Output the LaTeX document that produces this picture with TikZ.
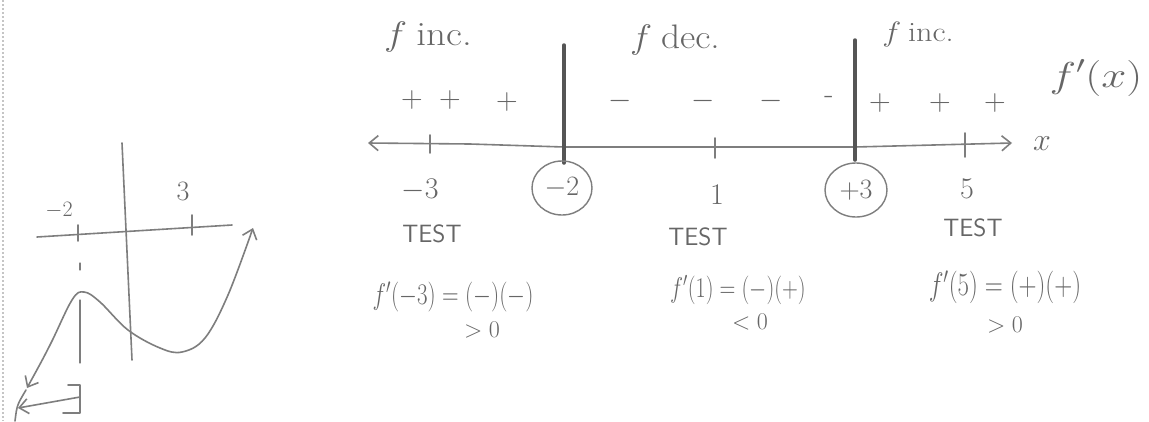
\RequirePackage{fix-cm}
\documentclass[tikz,border=0pt]{standalone}
\usepackage{graphicx}
\usetikzlibrary{arrows.meta,shapes.geometric}
\definecolor{pencil}{HTML}{7E7E7E}
\definecolor{pencildark}{HTML}{555555}
\definecolor{pencilink}{HTML}{666666}
\newcommand{\stretchx}[2]{\scalebox{#1}[1]{#2}}
\newcommand{\stretchy}[2]{\scalebox{1}[#1]{#2}}
\begin{document}
\begin{tikzpicture}[x=1pt,y=-1pt,
  pen/.style={draw=pencil, line width=1.6pt, line cap=round, line join=round},
  heavy/.style={draw=pencildark, line width=3.5pt, line cap=round},
  hand/.style={text=pencilink, inner sep=0pt, font=\fontsize{22}{26}\selectfont},
  big/.style={hand, font=\fontsize{30}{34}\selectfont},
  sign/.style={hand, font=\fontsize{30}{34}\selectfont},
  test/.style={text=pencilink, inner sep=0pt, font=\sffamily\fontsize{25}{28}\selectfont},
  topl/.style={text=pencilink, inner sep=0pt, font=\fontsize{34}{38}\selectfont},
  ring/.style={draw=pencil, line width=1.4pt, ellipse, inner sep=0pt, minimum width=60pt, minimum height=54pt, text=pencilink, font=\fontsize{28}{32}\selectfont},
  barb/.style={-{Straight Barb[length=9pt,width=15pt,line width=1.6pt]}},
  barbs/.style={{Straight Barb[length=9pt,width=15pt,line width=1.6pt]}-{Straight Barb[length=9pt,width=15pt,line width=1.6pt]}}]

\fill[white] (0,0) rectangle (1149,421);
\useasboundingbox (0,0) rectangle (1149,421);
\draw[pencil!45, dotted, line width=2pt] (3,0) -- (3,421);

% ---------- number line ----------
\coordinate (nlL) at (368,143);
\coordinate (nlR) at (1012,143);
\draw[pen, barbs] (nlL) -- (470,144) -- (564,147) -- (855,147) -- (nlR);
\draw[pen] (430,135) -- (430,153);
\draw[pen] (715,138) -- (715,158);
\draw[pen] (965,133) -- (965,157);
\draw[heavy] (564,45) -- (564,163);
\draw[heavy] (855,40) -- (855,160);

\node[hand, font=\fontsize{32}{36}\selectfont] (xlab) at (1042,144) {$x$};
\node[hand, font=\fontsize{36}{40}\selectfont] (fpx) at (1096,78) {\stretchx{1.25}{$f'(x)$}};

% top labels
\node[topl] (inc1) at (428,37) {\stretchx{1.15}{$f$\hspace{8pt}inc.}};
\node[topl] (dec)  at (675,40) {\stretchx{1.1}{$f$\hspace{8pt}dec.}};
\node[topl, font=\fontsize{28}{32}\selectfont] (inc2) at (918,34) {\stretchx{1.15}{$f$\hspace{6pt}inc.}};

% signs
\node[sign] (p1) at (412,100) {$+$};
\node[sign] (p2) at (450,100) {$+$};
\node[sign] (p3) at (507,102) {$+$};
\node[sign] (m1) at (620,101) {$-$};
\node[sign] (m2) at (703,101) {$-$};
\node[sign] (m3) at (771,101) {$-$};
\node[sign] (m4) at (829,100) {-};
\node[sign] (p4) at (880,103) {$+$};
\node[sign] (p5) at (940,103) {$+$};
\node[sign] (p6) at (995,103) {$+$};

% values under the line
\node[big] (vm3) at (420,190) {$-3$};
\node[ring] (cm2) at (562,188) {$-2$};
\node[big] (v1)  at (717,195) {1};
\node[ring, minimum width=62pt] (cp3) at (856,190) {$+3$};
\node[big] (v5)  at (967,189) {5};

% TEST labels
\node[test] (t1) at (432,234) {TEST};
\node[test] (t2) at (698,237) {TEST};
\node[test] (t3) at (973,228) {TEST};

% evaluations
\node[hand, font=\fontsize{23}{26}\selectfont] (e1) at (453,297) {\stretchy{1.3}{$f'(-3)=(-)(-)$}};
\node[hand, font=\fontsize{24}{28}\selectfont] (g1) at (482,330) {$>0$};
\node[hand] (e2) at (738,290) {\stretchy{1.3}{$f'(1)=(-)(+)$}};
\node[hand, font=\fontsize{24}{28}\selectfont] (g2) at (750,322) {$<0$};
\node[hand, font=\fontsize{25}{29}\selectfont] (e3) at (1005,287) {\stretchy{1.3}{$f'(5)=(+)(+)$}};
\node[hand, font=\fontsize{24}{28}\selectfont] (g3) at (1005,325) {$>0$};

% ---------- small graph ----------
\coordinate (axL) at (37,237);
\coordinate (axR) at (232,225);
\coordinate (ayT) at (122,143);
\coordinate (ayB) at (132,360);
\draw[pen] (axL) -- (axR);
\draw[pen] (ayT) -- (ayB);
\draw[pen] (78,225) -- (78,241);
\draw[pen] (192,215) -- (192,235);
\node[hand, font=\fontsize{22}{26}\selectfont] (gm2) at (59,210) {$-2$};
\node[hand, font=\fontsize{28}{32}\selectfont] (g3lab) at (183,191) {3};
\draw[pencil, line width=1.1pt, line cap=round] (80,263) -- (80,270);
\draw[pencil, line width=1.1pt, line cap=round] (80,300) -- (80,363);
\draw[pen, barbs] plot[smooth, tension=0.6] coordinates
  {(27,388) (50,345) (72,300) (84,292) (100,302) (128,330) (160,348) (182,352) (205,338) (228,295) (253,228)};
\coordinate (brk) at (80,397);
\coordinate (brkTip) at (18,408);
\draw[pen, barb] (brk) -- (brkTip);
\draw[pen] (68,385) -- (80,385) -- (80,413) -- (63,413);
\draw[pen] (15,421) .. controls (17,405) .. (26,390);
\end{tikzpicture}
\end{document}
